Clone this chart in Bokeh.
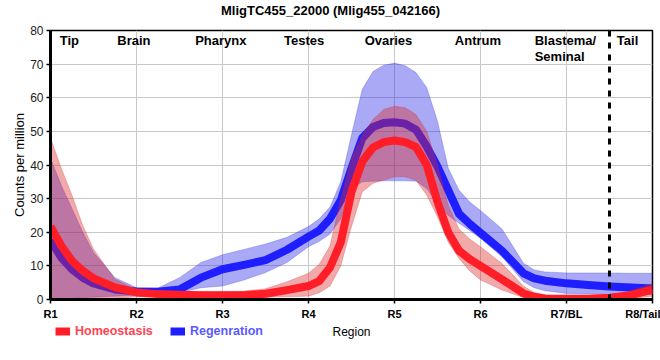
from bokeh.plotting import figure
from bokeh.layouts import column
from bokeh.models import ColumnDataSource, FixedTicker, Span, Legend, LegendItem, Range1d
from bokeh.core.properties import value
from bokeh.embed import file_html
from bokeh.resources import INLINE

# ---------------- data ----------------
pos = [1, 1.125, 1.25, 1.375, 1.5, 1.75, 2, 2.25, 2.5, 2.75, 3, 3.25, 3.5, 3.75,
       4, 4.125, 4.25, 4.375, 4.5, 4.625, 4.75, 4.875, 5, 5.125, 5.25, 5.375, 5.5,
       5.625, 5.75, 5.875, 6, 6.25, 6.5, 6.625, 6.75, 7, 7.25, 7.5, 7.75, 8]

homeo_mean = [21.7, 16.0, 11.5, 8.5, 6.3, 3.6, 2.1, 1.6, 1.4, 1.3, 1.3, 1.3, 1.7, 2.8,
              4.0, 5.5, 9.5, 17.0, 32.0, 41.0, 45.2, 46.8, 47.3, 46.8, 45.3, 40.0, 29.0,
              20.0, 14.5, 12.0, 10.0, 6.0, 1.8, 0.8, 0.3, 0.2, 0.2, 0.5, 1.3, 2.9]
homeo_upper = [48.0, 39.0, 31.0, 22.0, 15.0, 6.0, 2.9, 2.5, 2.4, 2.4, 2.4, 2.5, 3.2, 5.3,
               7.8, 10.5, 16.0, 30.0, 42.0, 49.0, 53.5, 56.5, 57.5, 57.0, 55.0, 50.0, 40.0,
               28.0, 21.0, 18.0, 15.7, 10.7, 4.0, 2.0, 1.3, 0.9, 0.9, 1.3, 2.6, 4.8]
homeo_lower = [0.0, 0.0, 0.0, 0.0, 0.0, 0.3, 0.8, 0.8, 0.7, 0.6, 0.6, 0.6, 0.7, 0.8,
               1.0, 2.0, 4.0, 10.0, 21.7, 32.0, 34.6, 35.5, 36.5, 36.5, 35.5, 31.0, 24.6,
               17.0, 12.2, 8.5, 5.8, 2.8, 0.6, 0.0, -0.5, -0.6, -0.6, -0.3, 0.2, 1.0]

regen_mean = [17.7, 12.5, 9.0, 6.5, 4.8, 3.0, 2.4, 2.3, 3.0, 6.5, 9.0, 10.3, 11.7, 14.8,
              18.7, 20.5, 24.0, 29.5, 39.0, 48.0, 51.3, 52.5, 52.7, 52.3, 50.5, 45.5, 39.5,
              32.5, 25.5, 22.5, 19.8, 14.5, 7.8, 6.3, 5.6, 4.8, 4.3, 3.9, 3.6, 3.3]
regen_upper = [42.0, 34.0, 27.0, 20.0, 14.0, 6.5, 3.5, 3.4, 6.5, 11.0, 13.3, 14.9, 16.5, 18.5,
               21.7, 24.0, 27.5, 35.0, 49.0, 62.5, 67.8, 69.7, 70.3, 69.5, 67.5, 63.0, 53.0,
               39.0, 32.5, 29.0, 26.5, 21.0, 10.8, 8.8, 8.2, 7.9, 7.9, 7.9, 7.8, 7.8]
regen_lower = [0.0, 0.1, 0.3, 0.5, 0.7, 1.0, 1.3, 1.4, 2.0, 3.5, 4.0, 5.8, 8.0, 11.0,
               15.7, 17.3, 19.5, 24.0, 33.0, 35.0, 35.2, 35.3, 35.3, 35.3, 35.2, 33.0, 28.5,
               25.0, 22.7, 20.5, 18.2, 12.7, 5.3, 3.5, 2.6, 1.8, 1.6, 1.5, 1.5, 1.5]

tick_pos = [1, 2, 3, 4, 5, 6, 7, 8]
tick_labels = ["R1", "R2", "R3", "R4", "R5", "R6", "R7/BL", "R8/Tail"]
y_ticks = [0, 10, 20, 30, 40, 50, 60, 70, 80]

region_names = ["Tip", "Brain", "Pharynx", "Testes", "Ovaries", "Antrum", "Blastema/\nSeminal", "Tail"]
region_x = [1.22, 1.97, 2.98, 3.95, 4.93, 5.97, 6.63, 7.71]
region_align = ["center", "center", "center", "center", "center", "center", "left", "center"]
boundary_x = 7.5

title_text = "MligTC455_22000 (Mlig455_042166)"
series_names = ["Homeostasis", "Regenration"]

FONT = "Liberation Sans"
RED = "#ff1e28"
BLUE = "#1e1eff"
W = 660
FL, FR = 50, W - 8          # frame left / right in page pixels

src = ColumnDataSource(dict(x=pos, hm=homeo_mean, hu=homeo_upper, hl=homeo_lower,
                            rm=regen_mean, ru=regen_upper, rl=regen_lower))


def strip(height):
    f = figure(width=W, height=height, x_range=Range1d(FL, FR), y_range=Range1d(0, height),
               output_backend="svg", toolbar_location=None,
               x_axis_type=None, y_axis_type=None,
               min_border_left=FL, min_border_right=W - FR, min_border_top=0, min_border_bottom=0)
    f.outline_line_color = None
    f.xgrid.visible = False
    f.ygrid.visible = False
    f.background_fill_color = "white"
    f.border_fill_color = "white"
    return f


# ---------- title strip ----------
TH = 20
t = strip(TH)
t.text(x=[(FL + FR) / 2 - 21], y=[TH - 9.5], text=[title_text], text_font=value(FONT),
       text_font_size="13px", text_font_style="bold", text_color="black",
       text_align="center", text_baseline="middle")

# ---------- main plot ----------
p = figure(width=W, height=302, x_range=Range1d(1, 8), y_range=Range1d(0, 80),
           output_backend="svg", toolbar_location=None,
           min_border_left=FL, min_border_right=W - FR, min_border_top=10, min_border_bottom=22)

p.outline_line_color = "black"
p.outline_line_width = 1.5
p.background_fill_color = "white"
p.border_fill_color = "white"

p.xgrid.ticker = FixedTicker(ticks=tick_pos)
p.ygrid.ticker = FixedTicker(ticks=y_ticks)
p.xgrid.grid_line_color = "#c8c8c8"
p.ygrid.grid_line_color = "#c8c8c8"

p.xaxis.ticker = FixedTicker(ticks=tick_pos)
p.xaxis.major_label_overrides = {t_: l for t_, l in zip(tick_pos, tick_labels)}
p.yaxis.ticker = FixedTicker(ticks=y_ticks)
for ax in (p.xaxis[0], p.yaxis[0]):
    ax.axis_line_color = "black"
    ax.axis_line_width = 3
    ax.major_tick_in = 0
    ax.major_tick_out = 4
    ax.major_tick_line_color = "black"
    ax.major_tick_line_width = 1.5
    ax.minor_tick_line_color = None
    ax.major_label_text_font = FONT
    ax.axis_label_text_font = FONT
    ax.axis_label_text_font_style = "normal"
    ax.axis_label_text_color = "black"

p.xaxis.major_label_text_font_size = "11px"
p.xaxis.major_label_text_font_style = "bold"
p.xaxis.major_label_text_color = "black"
p.xaxis.major_label_standoff = 4

p.yaxis.major_label_text_font_size = "12px"
p.yaxis.major_label_text_color = "#222222"
p.yaxis.major_label_standoff = 3
p.yaxis.axis_label = "Counts per million"
p.yaxis.axis_label_text_font_size = "13px"
p.yaxis.axis_label_standoff = 0

p.varea(x="x", y1="rl", y2="ru", source=src, fill_color="#2828e6", fill_alpha=0.4)
p.line(x="x", y="ru", source=src, line_color="#2828e6", line_alpha=0.25, line_width=1)
p.line(x="x", y="rl", source=src, line_color="#2828e6", line_alpha=0.25, line_width=1)
p.line(x="x", y="rm", source=src, line_color=BLUE, line_width=8, line_join="round")
p.varea(x="x", y1="hl", y2="hu", source=src, fill_color="#dc2828", fill_alpha=0.4)
p.line(x="x", y="hu", source=src, line_color="#dc2828", line_alpha=0.25, line_width=1)
p.line(x="x", y="hl", source=src, line_color="#dc2828", line_alpha=0.25, line_width=1)
p.line(x="x", y="hm", source=src, line_color=RED, line_width=8, line_join="round")

p.add_layout(Span(location=boundary_x, dimension="height", line_color="black",
                  line_width=3, line_dash="6 6"))

for name, rx, al in zip(region_names, region_x, region_align):
    p.text(x=[rx], y=[79.2], text=[name], text_font=value(FONT), text_font_size="13px",
           text_font_style="bold", text_color="black", text_align=al,
           text_baseline="top", text_line_height=1.05)

# ---------- bottom strip: legend + x-axis title ----------
BH = 28
q = strip(BH)
nan = float("nan")
leg_red = q.line(x=[nan], y=[nan], line_color=RED, line_width=8)
leg_blue = q.line(x=[nan], y=[nan], line_color=BLUE, line_width=8)


def make_legend(label, rend, color, xoff):
    return Legend(items=[LegendItem(label=label, renderers=[rend])], location=(xoff, 12),
                  orientation="horizontal", padding=0, margin=0, spacing=0,
                  label_standoff=5, glyph_width=15, glyph_height=14, label_height=14,
                  label_text_font=FONT, label_text_font_size="12.5px",
                  label_text_font_style="bold",
                  label_text_color=color, background_fill_alpha=0,
                  border_line_alpha=0)


q.add_layout(make_legend(series_names[0], leg_red, "#ff4452", 55 - FL))
q.add_layout(make_legend(series_names[1], leg_blue, "#5a5aff", 170 - FL))

q.text(x=[(FL + FR) / 2], y=[BH - 9], text=["Region"], text_font=value(FONT),
       text_font_size="12px", text_color="black", text_align="center",
       text_baseline="middle")

layout = column(t, p, q, spacing=0)
open("out.html", "w").write(file_html(layout, INLINE))
